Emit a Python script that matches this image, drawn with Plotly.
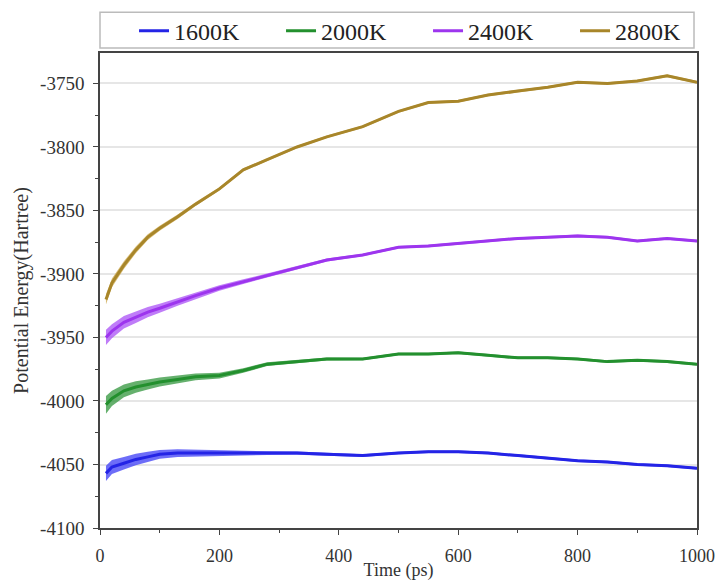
import plotly.graph_objects as go

time_ps = [10, 20, 40, 60, 80, 100, 130, 160, 200, 240, 280, 330, 380, 440, 500,
           550, 600, 650, 700, 750, 800, 850, 900, 950, 1000]

e_1600 = [-4057, -4052, -4049, -4046, -4044, -4042, -4041, -4041, -4041, -4041, -4041,
          -4041, -4042, -4043, -4041, -4040, -4040, -4041, -4043, -4045, -4047, -4048,
          -4050, -4051, -4053]
e_2000 = [-4003, -3998, -3992, -3989, -3987, -3985, -3983, -3981, -3980, -3976, -3971,
          -3969, -3967, -3967, -3963, -3963, -3962, -3964, -3966, -3966, -3967, -3969,
          -3968, -3969, -3971]
e_2400 = [-3950, -3945, -3938, -3934, -3930, -3927, -3922, -3917, -3911, -3906, -3901,
          -3895, -3889, -3885, -3879, -3878, -3876, -3874, -3872, -3871, -3870, -3871,
          -3874, -3872, -3874]
e_2800 = [-3920, -3907, -3893, -3881, -3871, -3864, -3855, -3845, -3833, -3818, -3810,
          -3800, -3792, -3784, -3772, -3765, -3764, -3759, -3756, -3753, -3749, -3750,
          -3748, -3744, -3749]

# half-width of the fluctuation band for each series
band_1600 = [6, 5.5, 5, 4.5, 4, 3.5, 3, 2.6, 2.2, 1.8, 1.5, 1.3, 1.2, 1, 1, 1, 1, 1, 1, 1, 1, 1, 1, 1, 1]
band_2000 = [7, 6, 5, 4.5, 4, 3.5, 3, 2.6, 2.2, 1.8, 1.5, 1.3, 1.2, 1, 1, 1, 1, 1, 1, 1, 1, 1, 1, 1, 1]
band_2400 = [6, 5.5, 5, 4.5, 4, 3.5, 3, 2.6, 2.2, 1.8, 1.5, 1.3, 1.2, 1, 1, 1, 1, 1, 1, 1, 1, 1, 1, 1, 1]
band_2800 = [4, 3.5, 3, 2.6, 2.2, 2, 1.8, 1.5, 1.3, 1.2, 1, 1, 1, 1, 1, 1, 1, 1, 1, 1, 1, 1, 1, 1, 1]

y_tick_vals = [-4100, -4050, -4000, -3950, -3900, -3850, -3800, -3750]
y_tick_text = ["-4100", "-4050", "-4000", "-3950", "-3900", "-3850", "-3800", "-3750"]
x_tick_vals = [0, 200, 400, 600, 800, 1000]
x_tick_text = ["0", "200", "400", "600", "800", "1000"]

names = ["1600K", "2000K", "2400K", "2800K"]
series = [e_1600, e_2000, e_2400, e_2800]
bands = [band_1600, band_2000, band_2400, band_2800]
line_colors = ["#2424e6", "#23902e", "#9d35ee", "#a8862a"]
fill_colors = ["rgba(60,60,245,0.75)", "rgba(50,150,60,0.75)",
               "rgba(170,80,245,0.75)", "rgba(200,160,60,0.7)"]

fig = go.Figure()
for name, vals, bw, lc, fc in zip(names, series, bands, line_colors, fill_colors):
    upper = [v + b for v, b in zip(vals, bw)]
    lower = [v - b for v, b in zip(vals, bw)]
    fig.add_trace(go.Scatter(
        x=time_ps + time_ps[::-1], y=upper + lower[::-1],
        fill="toself", fillcolor=fc, line=dict(width=0),
        mode="lines", showlegend=False, hoverinfo="skip"))
    fig.add_trace(go.Scatter(
        x=time_ps, y=vals, mode="lines", name=name,
        line=dict(color=lc, width=3)))

font_family = "Liberation Serif"
fig.update_layout(
    width=720, height=581,
    margin=dict(l=100, r=23, t=53, b=53, autoexpand=False),
    paper_bgcolor="white", plot_bgcolor="white",
    font=dict(family=font_family, size=18, color="#333"),
    legend=dict(orientation="h", x=0.057, xanchor="left", y=1.046, yanchor="middle",
                borderwidth=0, bgcolor="rgba(0,0,0,0)",
                font=dict(family=font_family, size=24, color="#222"),
                entrywidth=102, tracegroupgap=0),
    shapes=[dict(type="rect", xref="paper", yref="paper",
                 x0=0.0, x1=0.995, y0=1.0105, y1=1.086,
                 line=dict(color="#bbbbbb", width=1.5), fillcolor="rgba(0,0,0,0)",
                 layer="below")],
)
fig.update_xaxes(
    range=[0, 1000], tickvals=x_tick_vals, ticktext=x_tick_text,
    showline=True, linecolor="#444", linewidth=1.5, mirror=True,
    ticks="outside", ticklen=5, tickcolor="#444", ticklabelstandoff=6,
    minor=dict(dtick=100, tick0=0, ticks="outside", ticklen=3, tickcolor="#444"),
    showgrid=False, zeroline=False,
    title=dict(text="Time (ps)", standoff=4, font=dict(family=font_family, size=18, color="#333")),
    tickfont=dict(family=font_family, size=18, color="#333"),
)
fig.update_yaxes(
    range=[-4100, -3726], tickvals=y_tick_vals, ticktext=y_tick_text,
    showline=True, linecolor="#444", linewidth=1.5, mirror=True,
    ticks="outside", ticklen=5, tickcolor="#444", ticklabelstandoff=5,
    minor=dict(dtick=25, tick0=-4100, ticks="outside", ticklen=3, tickcolor="#444", showgrid=False),
    showgrid=True, gridcolor="#e6e6e6", gridwidth=1.5, zeroline=False,
    title=dict(text="Potential Energy(Hartree)", standoff=6,
               font=dict(family=font_family, size=20, color="#333")),
    tickfont=dict(family=font_family, size=19, color="#333"),
)

fig.write_html("out.html")
